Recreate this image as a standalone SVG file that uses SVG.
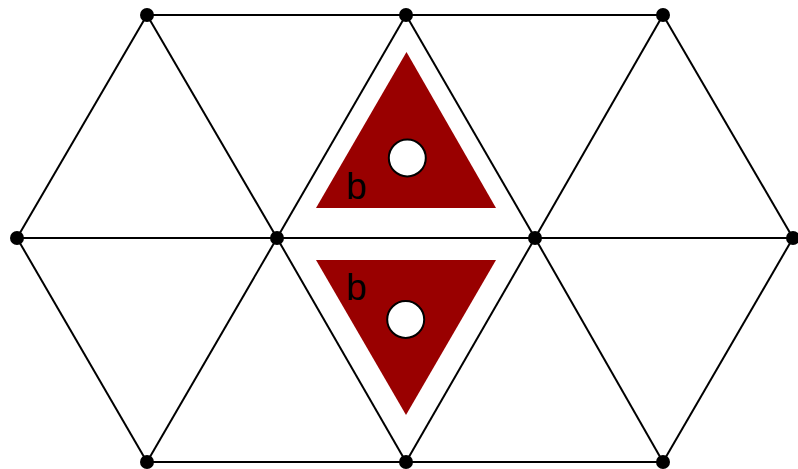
<svg xmlns="http://www.w3.org/2000/svg" width="798" height="469" viewBox="0 0 798 469">
<style>
.e{stroke:#000;stroke-width:2;fill:none}
.n{fill:#000}
.t{fill:#990000}
.h{fill:#fff;stroke:#000;stroke-width:2}
.l{font-family:"Liberation Sans",Arial,sans-serif;font-size:37px;fill:#000}
</style>
<rect width="798" height="469" fill="#fff"/>
<g id="connectors">
<line class="e" x1="147" y1="15" x2="663" y2="15"/>
<line class="e" x1="17" y1="238" x2="793" y2="238"/>
<line class="e" x1="147" y1="462" x2="663" y2="462"/>
<line class="e" x1="147" y1="15" x2="17" y2="238"/>
<line class="e" x1="147" y1="15" x2="277" y2="238"/>
<line class="e" x1="406" y1="15" x2="277" y2="238"/>
<line class="e" x1="406" y1="15" x2="535" y2="238"/>
<line class="e" x1="663" y1="15" x2="535" y2="238"/>
<line class="e" x1="663" y1="15" x2="793" y2="238"/>
<line class="e" x1="147" y1="462" x2="17" y2="238"/>
<line class="e" x1="147" y1="462" x2="277" y2="238"/>
<line class="e" x1="406" y1="462" x2="277" y2="238"/>
<line class="e" x1="406" y1="462" x2="535" y2="238"/>
<line class="e" x1="663" y1="462" x2="535" y2="238"/>
<line class="e" x1="663" y1="462" x2="793" y2="238"/>
</g>
<g id="tri-up">
<polygon class="t" points="406.5,52 316,208 496,208"/>
<circle class="h" cx="407.3" cy="158" r="18.5"/>
<text class="l" x="346" y="199">b</text>
</g>
<g id="tri-down">
<polygon class="t" points="316,260 496,260 406,415"/>
<circle class="h" cx="405.7" cy="319.5" r="18.5"/>
<text class="l" x="346" y="300">b</text>
</g>
<g id="nodes">
<circle class="n" cx="147" cy="15" r="7"/>
<circle class="n" cx="406" cy="15" r="7"/>
<circle class="n" cx="663" cy="15" r="7"/>
<circle class="n" cx="17" cy="238" r="7"/>
<circle class="n" cx="277" cy="238" r="7"/>
<circle class="n" cx="535" cy="238" r="7"/>
<circle class="n" cx="793" cy="238" r="7"/>
<circle class="n" cx="147" cy="462" r="7"/>
<circle class="n" cx="406" cy="462" r="7"/>
<circle class="n" cx="663" cy="462" r="7"/>
</g>
</svg>
